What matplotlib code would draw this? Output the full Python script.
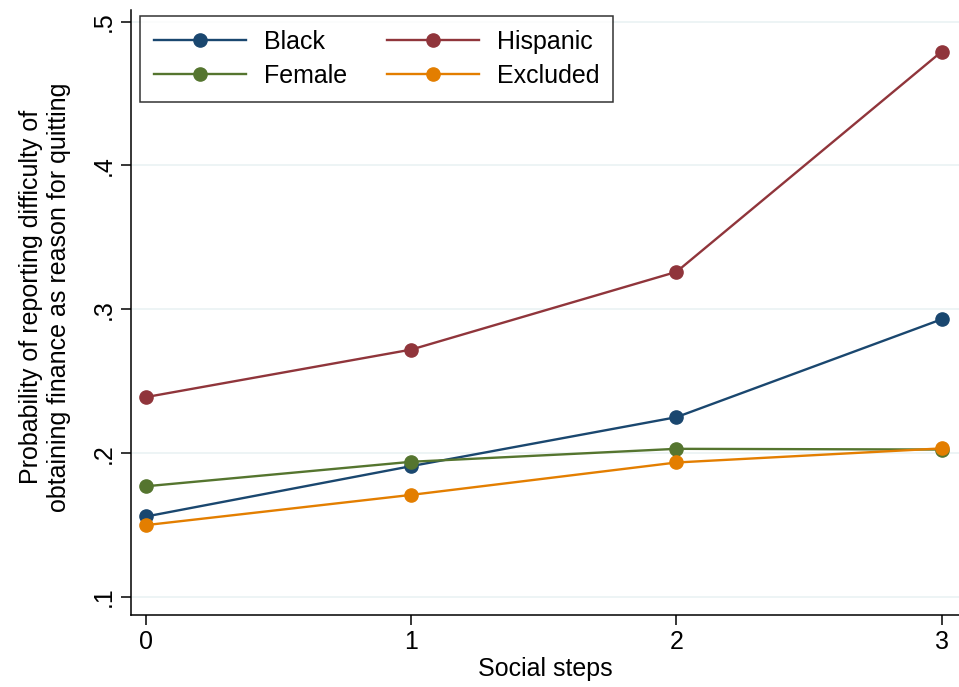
import matplotlib
matplotlib.use("Agg")
import matplotlib.pyplot as plt

plt.rcParams['font.family'] = ['Liberation Sans', 'DejaVu Sans']

steps = [0, 1, 2, 3]
black = [0.156, 0.191, 0.225, 0.293]
hispanic = [0.239, 0.272, 0.326, 0.479]
female = [0.177, 0.194, 0.203, 0.2025]
excluded = [0.150, 0.171, 0.1935, 0.2033]

yticks = [0.1, 0.2, 0.3, 0.4, 0.5]
ytick_labels = ['.1', '.2', '.3', '.4', '.5']

navy = '#1a476f'
maroon = '#90353b'
green = '#55752f'
orange = '#e37e00'

fig = plt.figure(figsize=(9.59, 6.87), dpi=100)
ax = fig.add_axes([131 / 959, 72 / 687, 828 / 959, 605 / 687])

style = dict(marker='o', markersize=9.5, linewidth=1.7)
l_black, = ax.plot(steps, black, color=navy, label='Black', **style)
l_hisp, = ax.plot(steps, hispanic, color=maroon, label='Hispanic', **style)
l_fem, = ax.plot(steps, female, color=green, label='Female', **style)
l_exc, = ax.plot(steps, excluded, color=orange, label='Excluded', **style)

ax.set_xlim(-0.058, 3.066)
ax.set_ylim(0.0875, 0.508)
ax.set_xticks(steps)
ax.set_yticks(yticks)
ax.set_yticklabels(ytick_labels, rotation=90, va='center')
ax.tick_params(axis='both', labelsize=18, length=7, width=1.1, direction='out')
ax.tick_params(axis='y', pad=4)
ax.tick_params(axis='x', pad=4)
ax.grid(axis='y', color='#eaf2f3', linewidth=1.2)
ax.set_axisbelow(True)

for s in ['top', 'right']:
    ax.spines[s].set_visible(False)
for s in ['left', 'bottom']:
    ax.spines[s].set_linewidth(1.1)

ax.set_xlabel('Social steps', fontsize=18, labelpad=2)
ax.set_ylabel('Probability of reporting difficulty of\nobtaining finance as reason for quitting',
              fontsize=18, linespacing=1.2)
ax.yaxis.set_label_coords(-0.073, 0.525)

leg = ax.legend(handles=[l_black, l_fem, l_hisp, l_exc], ncol=2, loc='upper left',
                bbox_to_anchor=(0.011, 0.99), borderaxespad=0, fontsize=18, frameon=True,
                fancybox=False, edgecolor='black', handlelength=3.7, columnspacing=1.6,
                borderpad=0.55, labelspacing=0.4, handletextpad=0.7)
leg.get_frame().set_linewidth(1.1)

fig.savefig('out.png', dpi=100, facecolor='white')
